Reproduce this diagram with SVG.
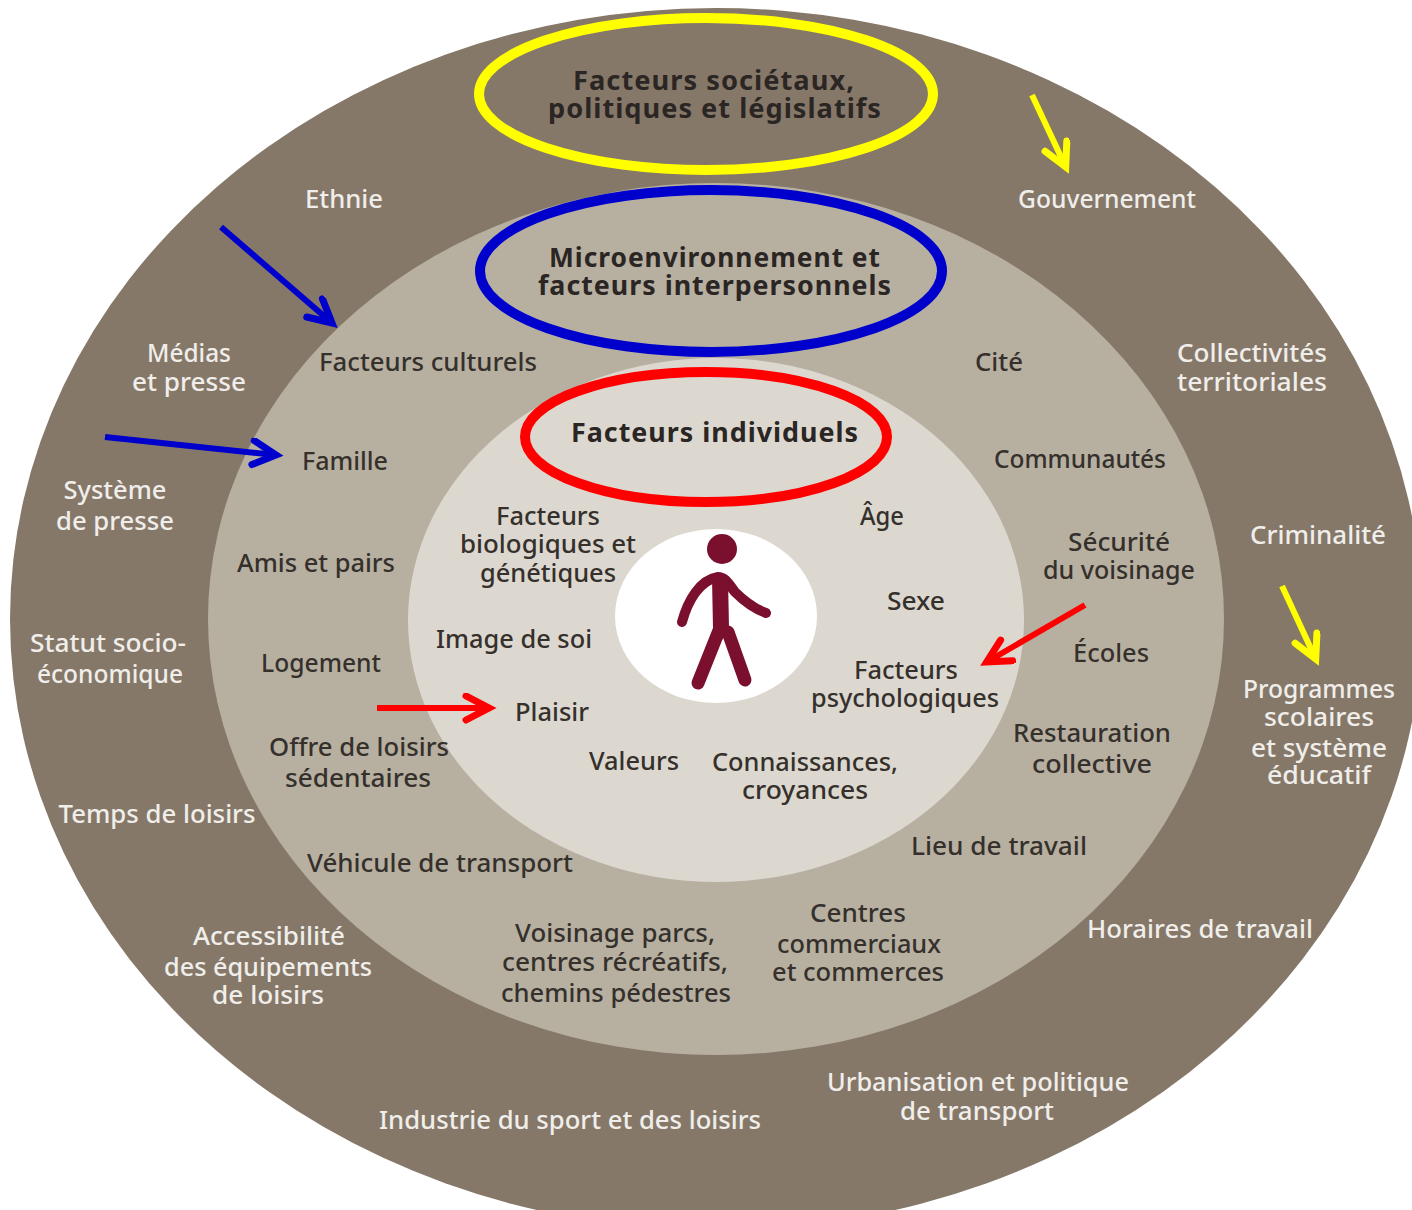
<svg xmlns="http://www.w3.org/2000/svg" width="1412" height="1210" viewBox="0 0 1412 1210">
<style>
text{font-family:"Noto Sans","DejaVu Sans",sans-serif;font-size:25px;text-anchor:middle;font-weight:500}
.w{fill:#f0eeea}
.d{fill:#35302c}
.h{fill:#2b2623;font-weight:700;font-size:27px;letter-spacing:1px}
.ring{fill:none;stroke-width:10}
.ar{fill:none;stroke-width:6}
.hd{fill:none;stroke-width:7;stroke-linecap:round;stroke-linejoin:miter;stroke-miterlimit:10}
</style>
<defs>
<marker id="my" markerUnits="userSpaceOnUse" markerWidth="50" markerHeight="40" refX="27" refY="15" orient="auto"><path class="hd" d="M4 3L27 15L4 27" stroke="#ffff00"/></marker>
<marker id="mb" markerUnits="userSpaceOnUse" markerWidth="50" markerHeight="40" refX="27" refY="15" orient="auto"><path class="hd" d="M4 3L27 15L4 27" stroke="#0000cc"/></marker>
<marker id="mr" markerUnits="userSpaceOnUse" markerWidth="50" markerHeight="40" refX="27" refY="15" orient="auto"><path class="hd" d="M4 3L27 15L4 27" stroke="#ff0000"/></marker>
</defs>
<rect width="1412" height="1210" fill="#fff"/>
<g id="ring-outer"><ellipse cx="716" cy="619" rx="706" ry="611" fill="#867869"/></g>
<g id="ring-middle"><ellipse cx="716" cy="619" rx="508" ry="436" fill="#b7b0a1"/></g>
<g id="ring-inner"><ellipse cx="716" cy="620" rx="308" ry="262" fill="#dcd8d0"/></g>
<g id="person">
<ellipse cx="716" cy="616" rx="101" ry="87" fill="#fff"/>
<circle cx="722" cy="549" r="15" fill="#7a0f2e"/>
<path d="M682 622C688 600 700 580 718 577C726 577 730 586 735 592C745 602 755 609 766 613" fill="none" stroke="#7a0f2e" stroke-width="10" stroke-linecap="round" stroke-linejoin="round"/>
<path d="M712 578H728L729 628L722 640L713 628Z" fill="#7a0f2e"/>
<path d="M720 628L698 683M728 632L745 680" fill="none" stroke="#7a0f2e" stroke-width="13" stroke-linecap="round"/>
</g>
<g id="labels-outer" class="w">
<text class="w" x="344" y="208" textLength="78" lengthAdjust="spacingAndGlyphs">Ethnie</text>
<text class="w" x="1107" y="208" textLength="178" lengthAdjust="spacingAndGlyphs">Gouvernement</text>
<text class="w" x="189" y="362" textLength="84" lengthAdjust="spacingAndGlyphs">Médias</text>
<text class="w" x="189" y="391" textLength="114" lengthAdjust="spacingAndGlyphs">et presse</text>
<text class="w" x="1252" y="362" textLength="150" lengthAdjust="spacingAndGlyphs">Collectivités</text>
<text class="w" x="1252" y="391" textLength="150" lengthAdjust="spacingAndGlyphs">territoriales</text>
<text class="w" x="115" y="499" textLength="103" lengthAdjust="spacingAndGlyphs">Système</text>
<text class="w" x="115" y="530" textLength="118" lengthAdjust="spacingAndGlyphs">de presse</text>
<text class="w" x="1318" y="544" textLength="136" lengthAdjust="spacingAndGlyphs">Criminalité</text>
<text class="w" x="108" y="652" textLength="156" lengthAdjust="spacingAndGlyphs">Statut socio-</text>
<text class="w" x="110" y="683" textLength="146" lengthAdjust="spacingAndGlyphs">économique</text>
<text class="w" x="1319" y="698" textLength="152" lengthAdjust="spacingAndGlyphs">Programmes</text>
<text class="w" x="1319" y="726" textLength="110" lengthAdjust="spacingAndGlyphs">scolaires</text>
<text class="w" x="1319" y="757" textLength="136" lengthAdjust="spacingAndGlyphs">et système</text>
<text class="w" x="1319" y="784" textLength="104" lengthAdjust="spacingAndGlyphs">éducatif</text>
<text class="w" x="157" y="823" textLength="197" lengthAdjust="spacingAndGlyphs">Temps de loisirs</text>
<text class="w" x="1200" y="938" textLength="226" lengthAdjust="spacingAndGlyphs">Horaires de travail</text>
<text class="w" x="269" y="945" textLength="152" lengthAdjust="spacingAndGlyphs">Accessibilité</text>
<text class="w" x="268" y="976" textLength="208" lengthAdjust="spacingAndGlyphs">des équipements</text>
<text class="w" x="268" y="1004" textLength="112" lengthAdjust="spacingAndGlyphs">de loisirs</text>
<text class="w" x="978" y="1091" textLength="302" lengthAdjust="spacingAndGlyphs">Urbanisation et politique</text>
<text class="w" x="977" y="1120" textLength="154" lengthAdjust="spacingAndGlyphs">de transport</text>
<text class="w" x="570" y="1129" textLength="382" lengthAdjust="spacingAndGlyphs">Industrie du sport et des loisirs</text>
</g>
<g id="labels-middle">
<text class="d" x="428" y="371" textLength="218" lengthAdjust="spacingAndGlyphs">Facteurs culturels</text>
<text class="d" x="999" y="371" textLength="48" lengthAdjust="spacingAndGlyphs">Cité</text>
<text class="d" x="345" y="470" textLength="86" lengthAdjust="spacingAndGlyphs">Famille</text>
<text class="d" x="1080" y="468" textLength="172" lengthAdjust="spacingAndGlyphs">Communautés</text>
<text class="d" x="316" y="572" textLength="158" lengthAdjust="spacingAndGlyphs">Amis et pairs</text>
<text class="d" x="1119" y="551" textLength="102" lengthAdjust="spacingAndGlyphs">Sécurité</text>
<text class="d" x="1119" y="579" textLength="152" lengthAdjust="spacingAndGlyphs">du voisinage</text>
<text class="d" x="321" y="672" textLength="120" lengthAdjust="spacingAndGlyphs">Logement</text>
<text class="d" x="1111" y="662" textLength="76" lengthAdjust="spacingAndGlyphs">Écoles</text>
<text class="d" x="359" y="756" textLength="180" lengthAdjust="spacingAndGlyphs">Offre de loisirs</text>
<text class="d" x="358" y="787" textLength="146" lengthAdjust="spacingAndGlyphs">sédentaires</text>
<text class="d" x="1092" y="742" textLength="158" lengthAdjust="spacingAndGlyphs">Restauration</text>
<text class="d" x="1092" y="773" textLength="120" lengthAdjust="spacingAndGlyphs">collective</text>
<text class="d" x="440" y="872" textLength="266" lengthAdjust="spacingAndGlyphs">Véhicule de transport</text>
<text class="d" x="999" y="855" textLength="176" lengthAdjust="spacingAndGlyphs">Lieu de travail</text>
<text class="d" x="615" y="942" textLength="200" lengthAdjust="spacingAndGlyphs">Voisinage parcs,</text>
<text class="d" x="615" y="971" textLength="226" lengthAdjust="spacingAndGlyphs">centres récréatifs,</text>
<text class="d" x="616" y="1002" textLength="230" lengthAdjust="spacingAndGlyphs">chemins pédestres</text>
<text class="d" x="858" y="922" textLength="96" lengthAdjust="spacingAndGlyphs">Centres</text>
<text class="d" x="859" y="953" textLength="164" lengthAdjust="spacingAndGlyphs">commerciaux</text>
<text class="d" x="858" y="981" textLength="172" lengthAdjust="spacingAndGlyphs">et commerces</text>
</g>
<g id="labels-inner">
<text class="d" x="548" y="525" textLength="104" lengthAdjust="spacingAndGlyphs">Facteurs</text>
<text class="d" x="548" y="553" textLength="176" lengthAdjust="spacingAndGlyphs">biologiques et</text>
<text class="d" x="548" y="582" textLength="136" lengthAdjust="spacingAndGlyphs">génétiques</text>
<text class="d" x="882" y="525" textLength="44" lengthAdjust="spacingAndGlyphs">Âge</text>
<text class="d" x="916" y="610" textLength="58" lengthAdjust="spacingAndGlyphs">Sexe</text>
<text class="d" x="514" y="648" textLength="156" lengthAdjust="spacingAndGlyphs">Image de soi</text>
<text class="d" x="906" y="679" textLength="104" lengthAdjust="spacingAndGlyphs">Facteurs</text>
<text class="d" x="905" y="707" textLength="188" lengthAdjust="spacingAndGlyphs">psychologiques</text>
<text class="d" x="552" y="721" textLength="74" lengthAdjust="spacingAndGlyphs">Plaisir</text>
<text class="d" x="634" y="770" textLength="90" lengthAdjust="spacingAndGlyphs">Valeurs</text>
<text class="d" x="805" y="771" textLength="186" lengthAdjust="spacingAndGlyphs">Connaissances,</text>
<text class="d" x="805" y="799" textLength="126" lengthAdjust="spacingAndGlyphs">croyances</text>
</g>
<g id="titles">
<text class="h" x="714" y="90" textLength="282" lengthAdjust="spacingAndGlyphs">Facteurs sociétaux,</text>
<text class="h" x="715" y="118" textLength="334" lengthAdjust="spacingAndGlyphs">politiques et législatifs</text>
<text class="h" x="715" y="267" textLength="332" lengthAdjust="spacingAndGlyphs">Microenvironnement et</text>
<text class="h" x="715" y="295" textLength="354" lengthAdjust="spacingAndGlyphs">facteurs interpersonnels</text>
<text class="h" x="715" y="442" textLength="288" lengthAdjust="spacingAndGlyphs">Facteurs individuels</text>
</g>
<g id="highlight-rings">
<ellipse class="ring" cx="706" cy="94" rx="227" ry="76" stroke="#ffff00"/>
<ellipse class="ring" cx="711" cy="271" rx="231" ry="81" stroke="#0000cc"/>
<ellipse class="ring" cx="706" cy="437" rx="181" ry="65" stroke="#ff0000"/>
</g>
<g id="connectors">
<line class="ar" x1="1032" y1="95" x2="1065.7" y2="167" stroke="#ffff00" marker-end="url(#my)"/>
<line class="ar" x1="1282" y1="586" x2="1315.7" y2="659" stroke="#ffff00" marker-end="url(#my)"/>
<line class="ar" x1="221" y1="227" x2="332" y2="323" stroke="#0000cc" marker-end="url(#mb)"/>
<line class="ar" x1="105" y1="437" x2="276" y2="455" stroke="#0000cc" marker-end="url(#mb)"/>
<line class="ar" x1="1085" y1="605" x2="986.7" y2="662" stroke="#ff0000" marker-end="url(#mr)"/>
<line class="ar" x1="377" y1="708" x2="489" y2="708" stroke="#ff0000" marker-end="url(#mr)"/>
</g>
</svg>
